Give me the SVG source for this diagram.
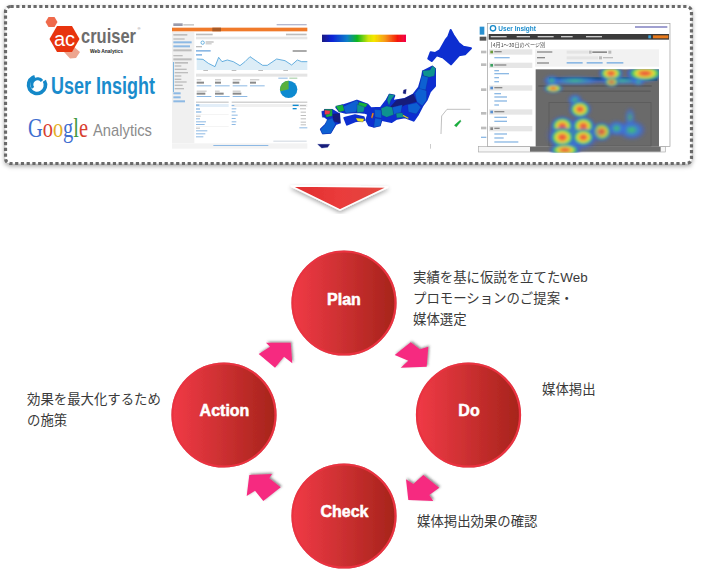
<svg xmlns="http://www.w3.org/2000/svg" width="701" height="584" viewBox="0 0 701 584">
<style>
.lbl{font-family:"Liberation Sans","Noto Sans CJK JP",sans-serif;font-size:13.4px;fill:#3a3a3a}
.cap{font-family:"Liberation Sans",Arial,sans-serif;font-size:16px;font-weight:bold;fill:#fff;stroke:#fff;stroke-width:.5px;text-anchor:middle}
.disc{fill:url(#disc);stroke:#ea3340;stroke-width:2.2px;filter:url(#edge)}
.arrow{fill:#f62c80;filter:url(#ash)}
.g{fill:#bdbdbd}.b{fill:#8db9e4}.d{fill:#8a8a8a}
.m path{stroke:#17208a;stroke-width:.8px;stroke-linejoin:round}
.m path.land{stroke:#0a2fd0;stroke-width:6px;fill:#0a2fd0}
.blue{fill:#0a2fd0}.navy{fill:#141a7a}.mid{fill:#1160d2}.teal{fill:#10938f}.green{fill:#16b33a}
</style>
<defs>
<linearGradient id="disc"><stop offset="0" stop-color="#f03a46"/><stop offset="1" stop-color="#a6241b"/></linearGradient>
<linearGradient id="tri" x1="0" x2="1"><stop offset="0" stop-color="#e02d2d"/><stop offset=".5" stop-color="#ea3b3b"/><stop offset="1" stop-color="#e24a40"/></linearGradient>
<linearGradient id="spec"><stop offset="0" stop-color="#1b1b82"/><stop offset=".12" stop-color="#0a22d8"/><stop offset=".3" stop-color="#0d80c8"/><stop offset=".42" stop-color="#10b81e"/><stop offset=".55" stop-color="#cfe40a"/><stop offset=".62" stop-color="#f6e600"/><stop offset=".75" stop-color="#f79a18"/><stop offset=".9" stop-color="#f4180c"/><stop offset="1" stop-color="#f2004a"/></linearGradient>
<radialGradient id="heat"><stop offset="0" stop-color="#e84a3a"/><stop offset=".28" stop-color="#ee7a3a"/><stop offset=".45" stop-color="#eee83a"/><stop offset=".65" stop-color="#38c85a"/><stop offset=".85" stop-color="#3a55e0" stop-opacity=".85"/><stop offset="1" stop-color="#3a55e0" stop-opacity="0"/></radialGradient>
<radialGradient id="cool"><stop offset="0" stop-color="#3fcb60"/><stop offset=".5" stop-color="#3a7ae0" stop-opacity=".9"/><stop offset="1" stop-color="#3a55e0" stop-opacity="0"/></radialGradient>
<filter id="shadow" x="-5%" y="-10%" width="110%" height="125%"><feDropShadow dx="0" dy="2" stdDeviation="2" flood-color="#000" flood-opacity=".35"/></filter>
<filter id="edge" x="-10%" y="-10%" width="120%" height="120%"><feDropShadow dx="0" dy="0" stdDeviation=".7" flood-color="#7a1a1a" flood-opacity=".5"/></filter>
<filter id="ash" x="-20%" y="-20%" width="140%" height="140%"><feDropShadow dx="1.200" dy="-1.200" stdDeviation=".8" flood-color="#333" flood-opacity=".55"/></filter>
<filter id="soft" x="-5%" y="-5%" width="110%" height="110%"><feGaussianBlur stdDeviation="1.400"/></filter>
<filter id="soft2" x="-5%" y="-5%" width="110%" height="110%"><feGaussianBlur stdDeviation="2"/></filter>
<filter id="hot" x="-5%" y="-5%" width="110%" height="110%"><feGaussianBlur stdDeviation="4"/></filter>
</defs>
<rect width="701" height="584" fill="#fff"/>

<g id="frame">
<rect x="5.500" y="6.500" width="686" height="157" rx="5" fill="#fff" stroke="#6a6a6a" stroke-width="3.200" stroke-dasharray="3.200 2.550" filter="url(#shadow)"/>
</g>

<g id="logo-accruiser" font-family="'Liberation Sans',sans-serif">
<polygon points="45.500,22 48.500,17 54.500,17 57.500,22 54.500,27 48.500,27" fill="#ef6a4c"/>
<polygon points="66,46 73,46 80,52 76,58 70,58.500 64,52" fill="#eda58f"/>
<polygon points="49.500,39 57,26 72,26 79.500,39 72,52 57,52" fill="#e8340e"/>
<text x="64.500" y="45.500" font-size="20" fill="#fff" text-anchor="middle">ac</text>
<text x="81" y="43" font-size="20.500" font-weight="bold" fill="#6d6d6d" textLength="55" lengthAdjust="spacingAndGlyphs">cruiser</text>
<text x="137.500" y="30" font-size="4" fill="#777">®</text>
<text x="90" y="53" font-size="5" font-weight="bold" fill="#222" textLength="33" lengthAdjust="spacingAndGlyphs">Web Analytics</text>
</g>
<g id="logo-userinsight" font-family="'Liberation Sans',sans-serif">
<circle cx="37" cy="85" r="8.500" fill="none" stroke="#1488c8" stroke-width="3.600" stroke-dasharray="42 12" transform="rotate(-30 37 85)"/>
<path d="M33 88 A5 5 0 0 1 42 81" fill="none" stroke="#1488c8" stroke-width="3"/>
<text x="51" y="93.500" font-size="23.500" font-weight="bold" fill="#1a8ccc" textLength="104" lengthAdjust="spacingAndGlyphs">User Insight</text>
</g>
<g id="logo-google">
<text transform="translate(28 137) scale(.77 1)" font-family="'Liberation Serif',serif" font-size="26.500"><tspan fill="#3f6fd0">G</tspan><tspan fill="#d8402f">o</tspan><tspan fill="#e4ae24">o</tspan><tspan fill="#3f6fd0">g</tspan><tspan fill="#3f9a40">l</tspan><tspan fill="#d8402f">e</tspan></text>
<text x="93" y="136" font-family="'Liberation Sans',sans-serif" font-size="17" fill="#8c8c8c" textLength="59" lengthAdjust="spacingAndGlyphs">Analytics</text>
</g>

<g id="screenshot-analytics" transform="translate(170 20) scale(.3333)">
<g filter="url(#soft2)">
<rect x="6" y="8" width="406" height="380" fill="#fff"/>
<rect x="10" y="10" width="28" height="8" fill="#9a9aaa"/><rect x="40" y="12" width="32" height="5" fill="#ccc"/>
<rect x="320" y="12" width="90" height="4" fill="#b4b8d0"/>
<rect x="6" y="23" width="406" height="11" fill="#f07a2a"/><rect x="127" y="23" width="26" height="11" fill="#a85a28"/>
<rect x="6" y="36" width="67" height="334" fill="#f0f0f0"/>
<rect x="10" y="42" width="42" height="5" class="g"/><rect x="10" y="55" width="34" height="4" class="g"/>
<rect x="10" y="64" width="55" height="6" class="b"/><rect x="10" y="76" width="50" height="6" class="b"/><rect x="10" y="88" width="55" height="6" class="g"/>
<rect x="10" y="105" width="28" height="4" class="g"/><rect x="10" y="115" width="55" height="6" class="g"/>
<rect x="9" y="126" width="3" height="90" fill="#7fb6e0"/>
<rect x="14" y="126" width="40" height="5" class="g"/><rect x="14" y="136" width="20" height="4" class="g"/><rect x="14" y="146" width="36" height="4" class="g"/><rect x="14" y="156" width="40" height="4" class="g"/><rect x="14" y="166" width="20" height="4" class="g"/><rect x="14" y="176" width="20" height="4" class="g"/><rect x="14" y="184" width="36" height="4" class="g"/><rect x="14" y="194" width="24" height="4" class="g"/><rect x="14" y="204" width="28" height="4" class="g"/>
<rect x="10" y="217" width="22" height="6" class="b"/><rect x="10" y="229" width="22" height="6" class="b"/><rect x="10" y="241" width="35" height="6" class="b"/>
<rect x="78" y="41" width="50" height="5" class="g"/><rect x="348" y="41" width="62" height="5" class="g"/>
<rect x="78" y="50" width="334" height="8" fill="#e6e6e6"/>
<circle cx="98" cy="68" r="5" fill="none" stroke="#2a90d0" stroke-width="2"/><rect x="107" y="64" width="24" height="4" class="g"/><rect x="107" y="70" width="18" height="3" class="g"/>
<rect x="78" y="78" width="18" height="4" class="g"/>
<rect x="78" y="90" width="44" height="5" class="b"/><rect x="368" y="90" width="42" height="6" fill="#aaa"/>
<rect x="78" y="102" width="18" height="5" class="b"/>
<polygon points="80,117 99,118 115,130 135,140 146,112 156,125 172,120 190,125 210,137 225,125 240,110 262,125 278,136 292,136 320,117 345,122 365,135 382,120 395,125 412,125 412,150 80,150" fill="#dcedf7"/>
<polyline points="80,117 99,118 115,130 135,140 146,112 156,125 172,120 190,125 210,137 225,125 240,110 262,125 278,136 292,136 320,117 345,122 365,135 382,120 395,125 412,125" fill="none" stroke="#4aa0d8" stroke-width="2.500"/>
<rect x="100" y="150" width="14" height="3" class="g"/><rect x="185" y="150" width="14" height="3" class="g"/><rect x="265" y="150" width="14" height="3" class="g"/><rect x="340" y="150" width="14" height="3" class="g"/>
<rect x="78" y="161" width="334" height="9" fill="#e4e4e4"/>
<g id="ga-stats"><rect x="80" y="178" width="14" height="3" class="g"/><rect x="80" y="185" width="22" height="6" class="d"/><rect x="80" y="196" width="44" height="3" class="b"/>
<rect x="135" y="178" width="18" height="3" class="g"/><rect x="135" y="185" width="18" height="6" class="d"/><rect x="135" y="196" width="44" height="3" class="b"/>
<rect x="188" y="178" width="24" height="3" class="g"/><rect x="188" y="185" width="20" height="6" class="d"/><rect x="188" y="196" width="44" height="3" class="b"/>
<rect x="240" y="178" width="28" height="3" class="g"/><rect x="240" y="185" width="18" height="6" class="d"/><rect x="240" y="196" width="44" height="3" class="b"/>
<rect x="80" y="212" width="30" height="3" class="g"/><rect x="80" y="218" width="26" height="6" class="d"/><rect x="80" y="228" width="44" height="3" class="b"/>
<rect x="135" y="212" width="14" height="3" class="g"/><rect x="135" y="218" width="26" height="6" class="d"/><rect x="135" y="228" width="44" height="3" class="b"/>
<rect x="188" y="212" width="24" height="3" class="g"/><rect x="188" y="218" width="26" height="6" class="d"/><rect x="188" y="228" width="44" height="3" class="b"/></g>
<rect x="325" y="173" width="28" height="3" class="b"/><rect x="358" y="173" width="24" height="3" fill="#9ccb9c"/>
<circle cx="356" cy="208" r="26" fill="#118ad0"/>
<path d="M356 208 L356 182 A26 26 0 0 0 331 214 Z" fill="#58b03c"/>
<rect x="78" y="245" width="98" height="3" fill="#bbb"/><rect x="78" y="252" width="98" height="9" fill="#e3eef8"/><rect x="78" y="253" width="10" height="5" class="b"/>
<rect x="78" y="265" width="12" height="4" class="b"/><rect x="78" y="274" width="16" height="4" class="b"/><rect x="78" y="284" width="98" height="1" fill="#ddd"/><rect x="78" y="287" width="14" height="3" class="g"/><rect x="78" y="295" width="12" height="3" class="b"/><rect x="78" y="304" width="30" height="3" class="b"/><rect x="78" y="312" width="26" height="3" class="b"/><rect x="78" y="320" width="98" height="1" fill="#ddd"/><rect x="78" y="323" width="12" height="3" class="g"/><rect x="78" y="331" width="34" height="3" class="b"/><rect x="78" y="340" width="28" height="3" class="b"/><rect x="78" y="349" width="22" height="3" class="b"/>
<rect x="185" y="245" width="227" height="3" fill="#bbb"/>
<rect x="185" y="252" width="227" height="9" fill="#f0f0f0"/>
<rect x="185" y="255" width="8" height="3" class="b"/><rect x="185" y="265" width="14" height="3" class="b"/><rect x="185" y="274" width="12" height="3" class="b"/><rect x="185" y="284" width="18" height="3" class="b"/><rect x="185" y="294" width="12" height="3" class="b"/><rect x="185" y="304" width="14" height="3" class="b"/><rect x="185" y="312" width="12" height="3" class="b"/>
<rect x="368" y="254" width="18" height="4" fill="#118ad0"/><rect x="368" y="264" width="12" height="4" fill="#118ad0"/>
<rect x="390" y="255" width="18" height="3" class="g"/><rect x="390" y="265" width="18" height="3" class="g"/><rect x="392" y="275" width="16" height="3" class="g"/><rect x="392" y="285" width="16" height="3" class="g"/><rect x="392" y="295" width="16" height="3" class="g"/><rect x="392" y="305" width="16" height="3" class="g"/><rect x="392" y="313" width="16" height="3" class="g"/>
<rect x="388" y="322" width="24" height="3" class="b"/>
<rect x="310" y="362" width="100" height="3" fill="#cfd7e0"/>
<rect x="6" y="370" width="406" height="16" fill="#f3f3f3"/><rect x="130" y="375" width="165" height="3" class="b"/>
</g>
</g>

<g id="map-japan" class="m" transform="translate(315 20) scale(.3333)">
<g filter="url(#soft)">
<rect x="21" y="44" width="252" height="22" fill="url(#spec)"/>
<path class="land" d="M407 30L415 45 430 68 445 80 468 85 450 103 432 106 408 133 385 113 365 106 350 123 340 116 347 97 360 99 375 90 392 60 400 50Z"/>
<path class="land" d="M324 154L352 140 360 147 360 198 345 215 335 240 322 258 308 285 296 302 270 292 245 296 230 306 205 301 200 298 194 316 176 320 162 316 154 300 160 282 148 278 126 276 92 278 74 274 64 262 84 256 126 242 158 254 168 265 198 263 215 240 224 224 238 227 232 243 270 237 295 224 312 202 322 168Z"/>
<path class="land" d="M88 294L120 286 146 292 148 300 120 304 96 314Z"/>
<path class="land" d="M30 270L52 270 72 282 74 308 62 312 46 338 24 340 18 328 32 314 42 300 30 290Z"/>
<path class="teal" d="M322 152L345 150 352 137 362 145 358 168 342 172 326 168Z"/>
<path class="mid" d="M320 166L340 172 332 210 312 208Z"/>
<path class="mid" d="M300 220L312 205 335 212 335 240 322 258 305 245Z"/>
<path class="navy" d="M225 262L245 240 270 235 295 222 305 245 270 255 250 265Z"/>
<path class="teal" d="M222 222L240 225 228 240 222 258 216 240Z"/>
<path class="mid" d="M232 262L262 254 258 278 236 284Z"/>
<path class="mid" d="M278 254L305 248 318 262 304 282 280 276Z"/>
<path class="teal" d="M198 265L215 258 232 262 236 284 215 292 200 285Z"/>
<path class="teal" d="M243 280L262 278 268 292 245 294Z"/>
<path fill="#f2e21c" d="M265 284L282 294 278 296 263 288Z"/>
<path class="mid" d="M178 268L198 270 200 295 180 292Z"/>
<path fill="#f28c18" d="M172 278L177 280 172 296 168 292Z"/>
<path class="mid" d="M180 294L200 298 196 318 176 322Z"/>
<path class="mid" d="M84 260L126 240 132 250 124 276 92 280Z"/>
<path class="green" d="M62 258L84 254 88 272 72 276Z"/>
<path class="teal" d="M126 252L150 258 146 276 126 278Z"/>
<path class="green" d="M132 246L158 252 152 262 130 255Z"/>
<path fill="#eee61c" d="M122 294L148 296 144 306 128 304Z"/>
<path class="navy" d="M52 282L74 280 76 310 56 304Z"/>
<path class="mid" d="M36 300L52 294 56 304 62 312 48 340 22 342 16 328 30 314Z"/>
<path class="green" d="M28 268L52 268 52 288 34 292Z"/>
<path fill="#ef3b4a" d="M28 270L46 272 44 282 28 284Z"/>
<path class="blue" d="M20 274L28 272 28 292 22 292Z"/>
<path class="navy" d="M266 210L274 208 272 222 264 220Z"/>
<path class="green" d="M418 316L436 300 438 304 424 321Z" style="stroke:#0a7a30"/>
<path d="M378 342L380 288 396 268 466 268" fill="none" style="stroke:#a0a0a0;stroke-width:2px"/>
<path class="navy" d="M8 373L44 373 38 382 20 384Z"/>
<rect x="345" y="372" width="3" height="14" fill="#ccc" style="stroke:none"/>
</g>
</g>

<g id="screenshot-heatmap" transform="translate(475 20) scale(.3333)">
<g filter="url(#soft)">
<path d="M12 10H37V380H12Z" fill="#fff"/>
<rect x="14" y="20" width="14" height="24" fill="#2a90d0"/><rect x="14" y="50" width="20" height="12" fill="#555"/>
<rect x="18" y="92" width="16" height="8" class="g"/><rect x="18" y="130" width="16" height="8" class="g"/><rect x="18" y="205" width="16" height="8" class="g"/><rect x="18" y="276" width="16" height="8" class="g"/><rect x="18" y="320" width="16" height="8" class="g"/><rect x="18" y="350" width="16" height="4" class="b"/>
<rect x="11" y="380" width="560" height="16" fill="#f6f6f6" stroke="#aaa" stroke-width="2"/>
<rect x="165" y="381" width="392" height="14" fill="#6d6d6d"/>
<rect x="37" y="10" width="548" height="370" fill="#fff" stroke="#999" stroke-width="2"/>
<circle cx="54" cy="25" r="8" fill="none" stroke="#1488c8" stroke-width="4"/>
<text x="70" y="32" font-family="'Liberation Sans',sans-serif" font-size="21" font-weight="bold" fill="#1a8ccc" textLength="113" lengthAdjust="spacingAndGlyphs">User Insight</text>
<rect x="480" y="18" width="97" height="6" fill="#a0a0d0"/>
<rect x="41" y="42" width="541" height="17" fill="#3a3a3a"/>
<rect x="47" y="48" width="48" height="4" fill="#ccc"/><rect x="125" y="48" width="40" height="4" fill="#ccc"/><rect x="188" y="48" width="48" height="4" fill="#ccc"/><rect x="258" y="48" width="35" height="4" fill="#ccc"/><rect x="333" y="48" width="48" height="4" fill="#ccc"/>
<rect x="520" y="46" width="8" height="9" fill="#3aa0d8"/><rect x="534" y="46" width="46" height="9" fill="#e87a1a"/>
<rect x="48" y="66" width="2" height="17" fill="#777"/>
<text x="53" y="80" font-family="'Noto Sans CJK JP',sans-serif" font-size="15.500" fill="#444">4月1〜30日のページ別</text>
<rect x="42" y="88" width="130" height="16" fill="#e6e6e6"/><rect x="42" y="128" width="130" height="16" fill="#e6e6e6"/><rect x="42" y="196" width="130" height="16" fill="#e6e6e6"/><rect x="42" y="268" width="130" height="16" fill="#e6e6e6"/><rect x="42" y="318" width="130" height="16" fill="#e6e6e6"/>
<rect x="46" y="92" width="8" height="8" fill="#6a9a3a"/><rect x="46" y="132" width="8" height="8" fill="#3aa060"/><rect x="46" y="200" width="8" height="8" fill="#5a90d0"/><rect x="46" y="272" width="8" height="8" fill="#5a90d0"/><rect x="46" y="322" width="8" height="8" fill="#888"/>
<rect x="58" y="93" width="22" height="4" class="d"/><rect x="58" y="133" width="36" height="4" class="d"/><rect x="58" y="201" width="24" height="4" class="d"/><rect x="58" y="273" width="30" height="4" class="d"/><rect x="58" y="323" width="16" height="4" class="d"/>
<rect x="58" y="111" width="46" height="4" class="b"/><rect x="58" y="150" width="14" height="4" class="b"/><rect x="58" y="159" width="44" height="4" class="b"/><rect x="58" y="171" width="14" height="4" class="b"/><rect x="58" y="183" width="14" height="4" class="b"/><rect x="58" y="219" width="20" height="4" class="b"/><rect x="58" y="229" width="38" height="4" class="b"/><rect x="58" y="241" width="38" height="4" class="b"/><rect x="58" y="253" width="14" height="4" class="b"/><rect x="58" y="290" width="38" height="4" class="b"/><rect x="58" y="302" width="38" height="4" class="b"/><rect x="58" y="340" width="38" height="4" class="b"/><rect x="58" y="352" width="28" height="4" class="b"/><rect x="58" y="364" width="72" height="4" class="b"/>
<rect x="180" y="88" width="372" height="52" fill="#f2f2f2"/>
<rect x="186" y="94" width="46" height="4" class="d"/><rect x="186" y="111" width="24" height="4" class="d"/><rect x="186" y="127" width="36" height="4" class="d"/>
<rect x="275" y="92" width="66" height="9" fill="#e4e4e4"/><rect x="342" y="92" width="8" height="9" fill="#bbb"/><rect x="352" y="94" width="44" height="5" class="d"/><rect x="400" y="92" width="9" height="9" fill="#bbb"/>
<rect x="275" y="109" width="94" height="9" fill="#e4e4e4"/><rect x="372" y="109" width="9" height="9" fill="#bbb"/><rect x="384" y="111" width="30" height="4" class="g"/>
<rect x="275" y="126" width="48" height="5" class="b"/><rect x="335" y="126" width="48" height="5" class="b"/><rect x="395" y="126" width="50" height="5" class="b"/>
<rect x="182" y="148" width="370" height="232" fill="#6a6a6a"/>
<rect x="222" y="172" width="325" height="10" fill="#18485a"/>
<rect x="190" y="196" width="340" height="4" fill="#565656"/><rect x="215" y="212" width="312" height="3" fill="#565656"/><rect x="222" y="248" width="306" height="130" fill="none" stroke="#585858" stroke-width="2"/>
</g>
<clipPath id="heatclip"><rect x="182" y="148" width="370" height="250"/></clipPath>
<g id="heat-spots" clip-path="url(#heatclip)"><g filter="url(#hot)">
<ellipse cx="300" cy="182" rx="100" ry="14" fill="url(#cool)"/><ellipse cx="440" cy="182" rx="90" ry="12" fill="url(#cool)"/>
<ellipse cx="230" cy="182" rx="26" ry="18" fill="url(#cool)"/><ellipse cx="235" cy="205" rx="30" ry="14" fill="url(#heat)"/>
<ellipse cx="408" cy="160" rx="38" ry="24" fill="url(#heat)"/><ellipse cx="510" cy="160" rx="58" ry="26" fill="url(#heat)"/>
<ellipse cx="410" cy="186" rx="24" ry="16" fill="url(#heat)" opacity=".8"/><ellipse cx="490" cy="186" rx="20" ry="12" fill="url(#cool)"/>
<ellipse cx="300" cy="240" rx="24" ry="20" fill="url(#cool)"/><ellipse cx="315" cy="268" rx="34" ry="28" fill="url(#heat)"/>
<ellipse cx="470" cy="330" rx="45" ry="32" fill="url(#cool)"/><ellipse cx="465" cy="292" rx="18" ry="32" fill="url(#cool)" opacity=".7"/><ellipse cx="425" cy="325" rx="32" ry="26" fill="url(#cool)"/>
<ellipse cx="380" cy="335" rx="32" ry="30" fill="url(#heat)" opacity=".85"/>
<ellipse cx="295" cy="345" rx="85" ry="55" fill="url(#cool)"/>
<ellipse cx="262" cy="318" rx="36" ry="30" fill="url(#heat)"/><ellipse cx="325" cy="318" rx="36" ry="30" fill="url(#heat)"/>
<ellipse cx="262" cy="352" rx="40" ry="32" fill="url(#heat)"/><ellipse cx="325" cy="352" rx="36" ry="28" fill="url(#heat)"/>
<ellipse cx="270" cy="390" rx="48" ry="20" fill="url(#heat)"/>
</g></g>
</g>

<g id="flow-down"><polygon points="291,186 388,187 340,210" fill="url(#tri)" stroke="#fff" stroke-width="1.500" filter="url(#shadow)"/></g>

<g id="connectors">
<polygon class="arrow" points="266,342.700 290.700,342.700 292.300,363.300 284,356.700 275,367.700 258.700,354 270,346.700"/>
<polygon class="arrow" points="410.700,342.300 420,349.300 428.300,346.700 426.700,366.700 400.700,367.700 408.300,360.700 394.700,355"/>
<polygon class="arrow" points="406,479.300 413.300,484 423.300,475 439.300,487.700 429.300,495 433.300,501 408.300,500"/>
<polygon class="arrow" points="249.300,475 272,474 269.300,478.300 280.700,487.300 263.300,501 255,490.700 246.700,496"/>
</g>

<g id="node-plan"><circle class="disc" cx="344" cy="303" r="51.500"/><text class="cap" x="344" y="304.500">Plan</text></g>
<g id="node-do"><circle class="disc" cx="468.500" cy="415" r="51.500"/><text class="cap" x="469" y="415.500">Do</text></g>
<g id="node-check"><circle class="disc" cx="344" cy="516" r="51.500"/><text class="cap" x="344.500" y="516.500">Check</text></g>
<g id="node-action"><circle class="disc" cx="224" cy="415" r="51.500"/><text class="cap" x="224.500" y="415.500">Action</text></g>

<g id="labels">
<text class="lbl" x="413" y="282">実績を基に仮説を立てたWeb</text>
<text class="lbl" x="413" y="303">プロモーションのご提案・</text>
<text class="lbl" x="413" y="324">媒体選定</text>
<text class="lbl" x="542" y="394">媒体掲出</text>
<text class="lbl" x="417" y="526">媒体掲出効果の確認</text>
<text class="lbl" x="27" y="404">効果を最大化するため</text>
<text class="lbl" x="27" y="425">の施策</text>
</g>
</svg>
